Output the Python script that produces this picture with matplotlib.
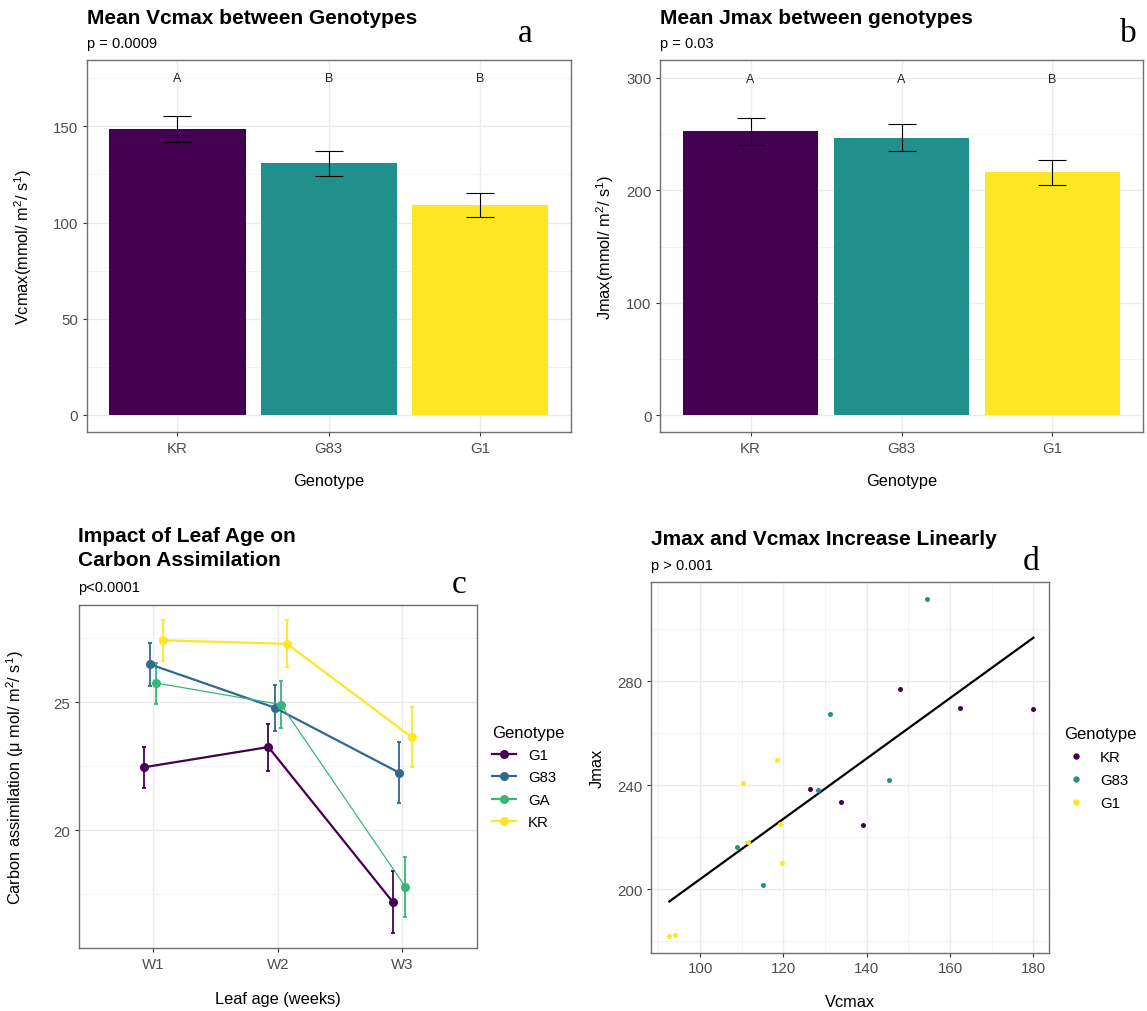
import numpy as np
import matplotlib
matplotlib.use('Agg')
import matplotlib.pyplot as plt
from matplotlib.lines import Line2D

# ---------------- data ----------------
genotypes = ['KR', 'G83', 'G1']
bar_colors = ['#440154', '#21908C', '#FDE725']
vcmax_mean = [148.5, 130.8, 109.3]
vcmax_se = [6.7, 6.6, 6.2]
vcmax_letters = ['A', 'B', 'B']
jmax_mean = [252.3, 246.5, 216.0]
jmax_se = [12.1, 12.0, 11.1]
jmax_letters = ['A', 'A', 'B']

weeks = ['W1', 'W2', 'W3']
line_groups = ['G1', 'G83', 'GA', 'KR']
line_colors = ['#440154', '#31688E', '#35B779', '#FDE725']
assim_G1 = [22.46, 23.25, 17.19]
assim_G1_se = [0.80, 0.92, 1.20]
assim_G83 = [26.48, 24.79, 22.25]
assim_G83_se = [0.83, 0.90, 1.20]
assim_GA = [25.75, 24.91, 17.79]
assim_GA_se = [0.80, 0.93, 1.18]
assim_KR = [27.42, 27.28, 23.64]
assim_KR_se = [0.80, 0.92, 1.18]

vcmax_KR = [148.0, 162.4, 180.0, 126.4, 133.8, 139.0]
jmax_KR = [277.0, 269.8, 269.2, 238.7, 233.7, 224.7]
vcmax_G83 = [154.4, 131.2, 145.4, 128.2, 108.8, 115.0]
jmax_G83 = [311.8, 267.4, 242.0, 238.2, 216.4, 201.6]
vcmax_G1 = [118.5, 110.2, 119.1, 111.4, 119.7, 92.6, 93.9]
jmax_G1 = [249.7, 240.9, 225.0, 218.3, 210.0, 181.9, 182.5]

# ---------------- style ----------------
plt.rcParams['font.family'] = ['Liberation Sans', 'DejaVu Sans']
plt.rcParams['mathtext.fontset'] = 'custom'
plt.rcParams['mathtext.rm'] = 'Liberation Sans'
plt.rcParams['mathtext.it'] = 'Liberation Sans'

W, H = 1147, 1012
fig = plt.figure(figsize=(W / 100, H / 100), dpi=100)


def ax_px(l, r, t, b):
    return fig.add_axes([l / W, 1 - b / H, (r - l) / W, (b - t) / H])


def style(ax):
    for s in ax.spines.values():
        s.set_color('#707070')
        s.set_linewidth(1.0)
    ax.tick_params(which='major', direction='out', length=3, width=0.8,
                   color='#333333', labelcolor='#4D4D4D', labelsize=10.8, pad=3)
    ax.tick_params(which='minor', length=0)
    ax.grid(which='major', color='#EBEBEB', lw=1.0)
    ax.grid(which='minor', color='#F2F2F2', lw=0.7)
    ax.set_axisbelow(True)


def labels(ax, xl, yl, xlab_y, ylab_x, size=11.8):
    ax.set_xlabel(xl, fontsize=size)
    ax.set_ylabel(yl, fontsize=size)
    ax.xaxis.set_label_coords(0.5, xlab_y)
    ax.yaxis.set_label_coords(ylab_x, 0.5)
    ax.xaxis.label.set_va('center')
    ax.yaxis.label.set_va('center')


def title(x, y, txt, sub, suby):
    fig.text(x / W, 1 - y / H, txt, fontsize=15, weight='bold', ha='left', va='center',
             linespacing=1.3)
    fig.text(x / W, 1 - suby / H, sub, fontsize=10.5, ha='left', va='center')


def letter(x, y, t):
    fig.text(x / W, 1 - y / H, t, fontsize=24, family='Liberation Serif', ha='center',
             va='baseline')


# ---------------- panel a ----------------
axa = ax_px(86.7, 570.7, 61.3, 433.3)
style(axa)
xa = np.arange(len(genotypes))
axa.bar(xa, vcmax_mean, width=0.9, color=bar_colors)
axa.errorbar(xa, vcmax_mean, yerr=vcmax_se, fmt='none', ecolor='black', elinewidth=0.8,
             capsize=10.4, capthick=0.8)
for xi, t in zip(xa, vcmax_letters):
    axa.text(xi, 175, t, ha='center', va='center', fontsize=9, color='#222222')
axa.set_xlim(-0.6, 2.6)
axa.set_ylim(-9.0, 184.3)
axa.set_xticks(xa, genotypes)
axa.set_yticks([0, 50, 100, 150])
axa.set_yticks([25, 75, 125, 175], minor=True)
labels(axa, 'Genotype', 'Vcmax(mmol/ m$^{2}$/ s$^{1}$)', -0.130, -0.132)
title(86.7, 18.3, 'Mean Vcmax between Genotypes', 'p = 0.0009', 44.3)
letter(525, 41.5, 'a')

# ---------------- panel b ----------------
axb = ax_px(660, 1143, 61.3, 433.3)
style(axb)
axb.bar(xa, jmax_mean, width=0.9, color=bar_colors)
axb.errorbar(xa, jmax_mean, yerr=jmax_se, fmt='none', ecolor='black', elinewidth=0.8,
             capsize=10.4, capthick=0.8)
for xi, t in zip(xa, jmax_letters):
    axb.text(xi, 299, t, ha='center', va='center', fontsize=9, color='#222222')
axb.set_xlim(-0.6, 2.6)
axb.set_ylim(-15.1, 315.5)
axb.set_xticks(xa, genotypes)
axb.set_yticks([0, 100, 200, 300])
axb.set_yticks([50, 150, 250], minor=True)
labels(axb, 'Genotype', 'Jmax(mmol/ m$^{2}$/ s$^{1}$)', -0.130, -0.113)
title(660, 18.3, 'Mean Jmax between genotypes', 'p = 0.03', 44.3)
letter(1128, 41.5, 'b')

# ---------------- panel c ----------------
axc = ax_px(78.5, 477, 605.7, 949.3)
style(axc)
xw = np.arange(len(weeks))
series = [(assim_G1, assim_G1_se), (assim_G83, assim_G83_se),
          (assim_GA, assim_GA_se), (assim_KR, assim_KR_se)]
offsets = [-0.075, -0.025, 0.025, 0.075]
handles = []
for (vals, se), col, off, name in zip(series, line_colors, offsets, line_groups):
    lw = 0.9 if name == 'GA' else 1.6
    axc.errorbar(xw + off, vals, yerr=se, fmt='-o', color=col, ecolor=col, lw=lw,
                 ms=5.5, elinewidth=1.3, capsize=1.6, capthick=1.3)
    handles.append(Line2D([], [], color=col, lw=1.6, marker='o', ms=5.5))
axc.set_xlim(-0.6, 2.6)
axc.set_ylim(15.39, 28.81)
axc.set_xticks(xw, weeks)
axc.set_yticks([20, 25])
axc.set_yticks([17.5, 22.5, 27.5], minor=True)
labels(axc, 'Leaf age (weeks)', 'Carbon assimilation (μ mol/ m$^{2}$/ s$^{1}$)',
       -0.145, -0.160)
title(78.5, 548.5, 'Impact of Leaf Age on\nCarbon Assimilation', 'p<0.0001', 588.3)
letter(459, 593, 'c')
fig.legend(handles, line_groups, loc='upper left',
           bbox_to_anchor=(492 / W, 1 - 726 / H), frameon=False, title='Genotype',
           alignment='left', fontsize=10.8, title_fontsize=12, handlelength=1.6,
           labelspacing=0.55, borderaxespad=0, borderpad=0, handletextpad=0.8)

# ---------------- panel d ----------------
axd = ax_px(651, 1049.3, 582.7, 954)
style(axd)
sc_groups = [('KR', vcmax_KR, jmax_KR, bar_colors[0]),
             ('G83', vcmax_G83, jmax_G83, bar_colors[1]),
             ('G1', vcmax_G1, jmax_G1, bar_colors[2])]
sh = []
for name, xv, yv, col in sc_groups:
    axd.scatter(xv, yv, s=13, color=col, linewidths=0, zorder=3)
    sh.append(Line2D([], [], color=col, lw=0, marker='o', ms=3.6))
allx = np.concatenate([vcmax_KR, vcmax_G83, vcmax_G1])
ally = np.concatenate([jmax_KR, jmax_G83, jmax_G1])
k, c0 = np.polyfit(allx, ally, 1)
xx = np.linspace(allx.min(), allx.max(), 50)
axd.plot(xx, k * xx + c0, color='black', lw=1.6, zorder=2)
axd.set_xlim(88.2, 183.8)
axd.set_ylim(175.5, 318.3)
axd.set_xticks([100, 120, 140, 160, 180])
axd.set_xticks([90, 110, 130, 150, 170], minor=True)
axd.set_yticks([200, 240, 280])
axd.set_yticks([180, 220, 260, 300], minor=True)
labels(axd, 'Vcmax', 'Jmax', -0.13, -0.135)
title(651, 539.3, 'Jmax and Vcmax Increase Linearly', 'p > 0.001', 566)
letter(1031, 570, 'd')
fig.legend(sh, [g[0] for g in sc_groups], loc='upper left',
           bbox_to_anchor=(1064 / W, 1 - 727 / H), frameon=False, title='Genotype',
           alignment='left', fontsize=10.8, title_fontsize=12, handlelength=1.6,
           labelspacing=0.6, borderaxespad=0, borderpad=0, handletextpad=0.8)

fig.savefig('out.png', dpi=100)
